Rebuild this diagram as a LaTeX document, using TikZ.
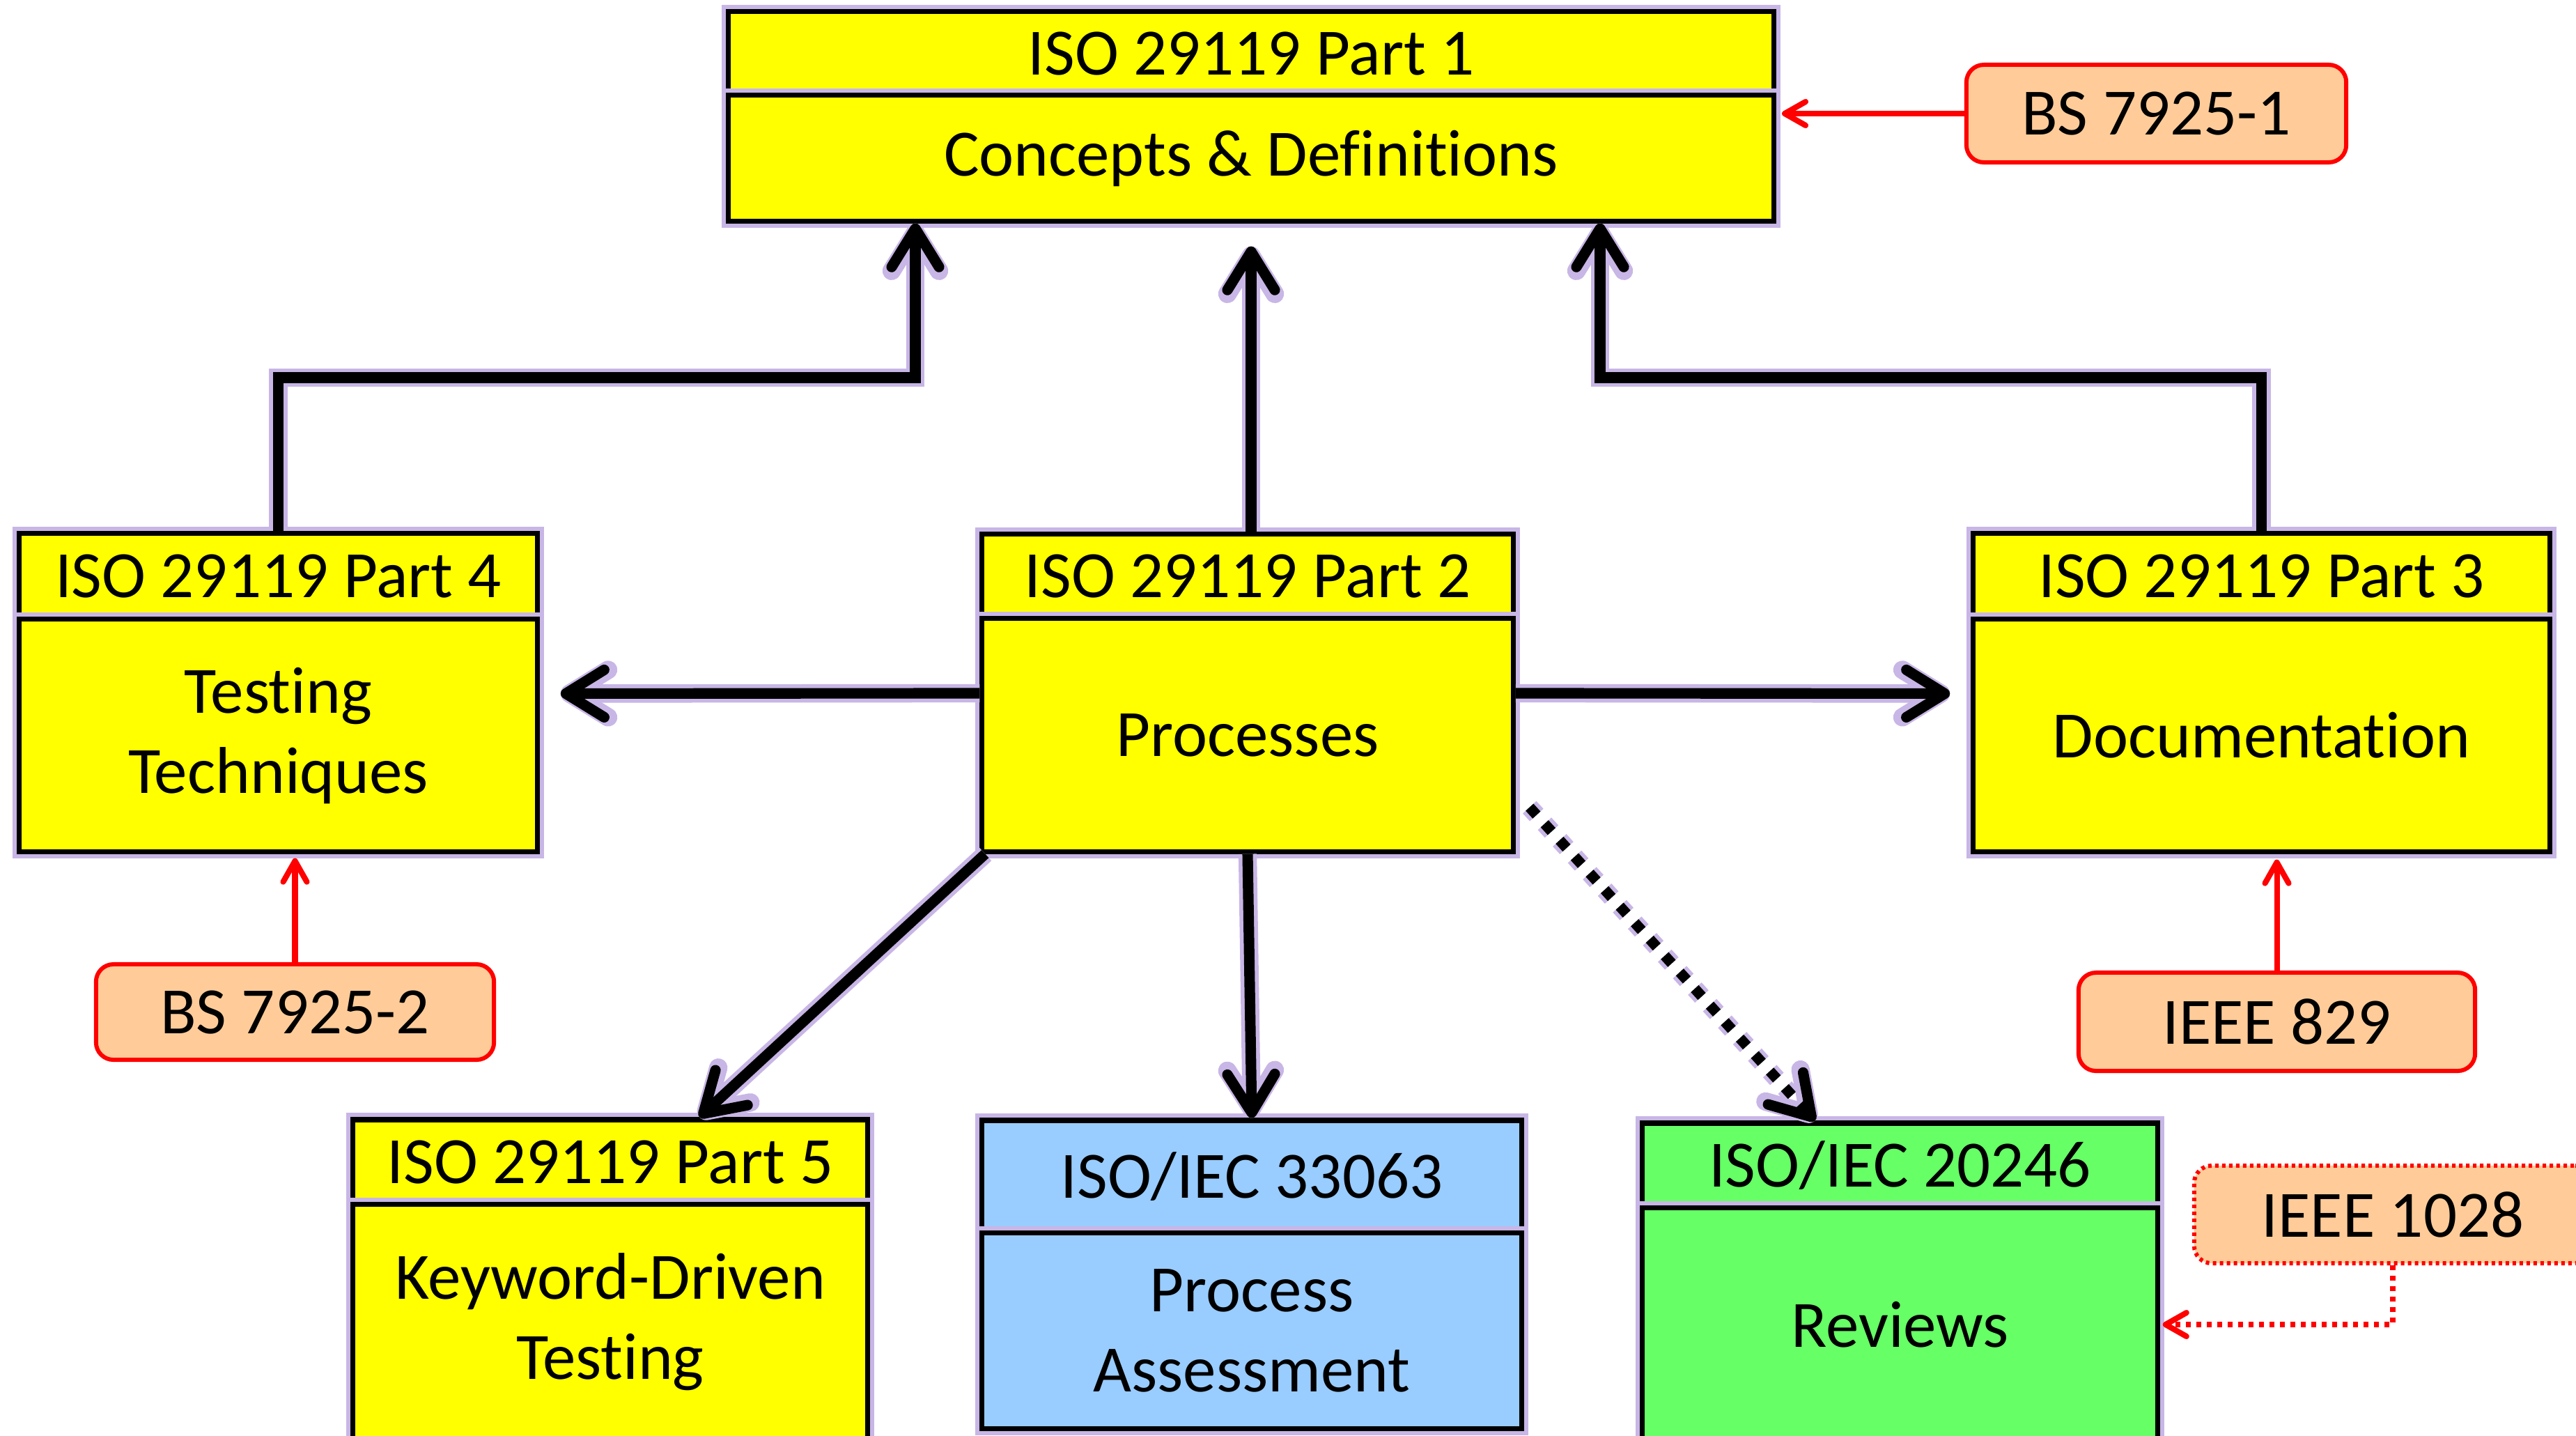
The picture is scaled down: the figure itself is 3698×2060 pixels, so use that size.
\documentclass[tikz,border=0pt]{standalone}
\usepackage{fontspec}
\setmainfont{Carlito}[Ligatures={NoCommon,NoContextual}]
\usetikzlibrary{arrows.meta,calc}
\definecolor{yel}{HTML}{FFFF00}
\definecolor{blu}{HTML}{99CCFF}
\definecolor{grn}{HTML}{66FF66}
\definecolor{peach}{HTML}{FFCC99}
\definecolor{glowc}{HTML}{C8B6E6}
\begin{document}
\begin{tikzpicture}[x=0.01cm,y=-0.01cm,
  stdbox/.style={draw=black, line width=2pt, inner sep=0pt, align=center,
    font=\fontsize{27}{32.7}\selectfont,
    preaction={draw=glowc, line width=5.5pt}},
  refbox/.style={draw=red, line width=1.7pt, fill=peach, rounded corners=0.25cm,
    inner sep=0pt, align=center, font=\fontsize{27}{32.7}\selectfont},
  tipblack/.style={-{Straight Barb[length=0.55cm,width=0.68cm,round]}},
  conn/.style={line width=4.3pt, tipblack,
    preaction={draw=glowc, line width=7.5pt}},
  dconn/.style={line width=4.3pt, tipblack, dash pattern=on 0.15cm off 0.17cm,
    preaction={draw=glowc, line width=7.5pt, dash pattern=on 0.15cm off 0.17cm}},
  redconn/.style={draw=red, line width=2.3pt, -{Straight Barb[length=0.3cm,width=0.34cm,round]}},
  boxdots/.style={dash pattern=on 0.05cm off 0.05cm},
  reddots/.style={dash pattern=on 0.07cm off 0.08cm}
]
\useasboundingbox (0,0) rectangle (3698,2060);
\clip (0,0) rectangle (3698,2060);

% ISO 29119 Part 1
\node[stdbox, fill=yel, minimum width=15cm, minimum height=1.2cm] (p1t) at (1796,77) {ISO 29119 Part 1};
\node[stdbox, fill=yel, minimum width=15cm, minimum height=1.8cm] (p1b) at (1796,227) {Concepts \& Definitions};

% Part 4
\node[stdbox, fill=yel, minimum width=7.43cm, minimum height=1.23cm] (p4t) at (399.5,827.5) {ISO 29119 Part 4};
\node[stdbox, fill=yel, minimum width=7.43cm, minimum height=3.33cm] (p4b) at (399.5,1055.5) {Testing\\Techniques};

% Part 2
\node[stdbox, fill=yel, minimum width=7.62cm, minimum height=1.21cm] (p2t) at (1791,827.5) {ISO 29119 Part 2};
\node[stdbox, fill=yel, minimum width=7.62cm, minimum height=3.34cm] (p2b) at (1791,1055) {Processes};

% Part 3
\node[stdbox, fill=yel, minimum width=8.27cm, minimum height=1.23cm] (p3t) at (3246.5,827.5) {ISO 29119 Part 3};
\node[stdbox, fill=yel, minimum width=8.27cm, minimum height=3.33cm] (p3b) at (3246.5,1055.5) {Documentation};

% Part 5
\node[stdbox, fill=yel, minimum width=7.38cm, minimum height=1.22cm] (p5t) at (876,1668) {ISO 29119 Part 5};
\node[stdbox, fill=yel, minimum width=7.38cm, minimum height=3.36cm] (p5b) at (876,1897) {Keyword-Driven\\Testing};

% ISO/IEC 33063
\node[stdbox, fill=blu, minimum width=7.74cm, minimum height=1.62cm] (p6t) at (1797,1689) {ISO/IEC 33063};
\node[stdbox, fill=blu, minimum width=7.74cm, minimum height=2.80cm] (p6b) at (1797,1910) {Process\\Assessment};

% ISO/IEC 20246
\node[stdbox, fill=grn, minimum width=7.39cm, minimum height=1.22cm] (p7t) at (2727.5,1673) {ISO/IEC 20246};
\node[stdbox, fill=grn, minimum width=7.39cm, minimum height=3.34cm] (p7b) at (2727.5,1901) {Reviews};

% reference standards
\node[refbox, minimum width=5.45cm, minimum height=1.40cm] (bs1) at (3095.5,163) {BS 7925-1};
\node[refbox, minimum width=5.71cm, minimum height=1.37cm] (bs2) at (423.5,1452.5) {BS 7925-2};
\node[refbox, minimum width=5.69cm, minimum height=1.41cm] (i829) at (3268.5,1466.5) {IEEE 829};
\node[refbox, boxdots, minimum width=5.70cm, minimum height=1.40cm] (i1028) at (3435,1743) {IEEE 1028};

% black connectors
\coordinate (j1) at (1314,542);
\coordinate (j2) at (2297,542);
\draw[conn] (p4t.north) |- (j1) -- (j1 |- p1b.south);
\draw[conn] (p3t.north) |- (j2) -- (j2 |- p1b.south);
\draw[conn, shorten >=0.33cm] ([xshift=0.05cm]p2t.north) -- ([xshift=0.05cm]p2t.north |- p1b.south);
\draw[conn, shorten >=0.3cm] ([yshift=0.6cm]p2b.west) -- ([yshift=0.6cm]p4b.east);
\draw[conn, shorten >=0.3cm] ([yshift=0.6cm]p2b.east) -- ([yshift=0.6cm]p3b.west);
\draw[conn] ([xshift=0.08cm]p2b.south west) -- ([xshift=1.28cm]p5t.north);
\draw[conn] (p2b.south) -- (p6t.north);
\draw[dconn] ([xshift=0.2cm,yshift=0.67cm]p2b.south east) -- ([xshift=-1.22cm]p7t.north);

% red connectors
\draw[redconn, shorten >=0.06cm] (bs2.north) -- (bs2.north |- p4b.south);
\draw[redconn, shorten >=0.08cm] (i829.north) -- (i829.north |- p3b.south);
\draw[redconn, shorten >=0.08cm] (bs1.west) -- (bs1.west -| p1b.east);
\draw[redconn, reddots, shorten >=0.04cm] (i1028.south) |- (p7b.east);
\end{tikzpicture}
\end{document}
